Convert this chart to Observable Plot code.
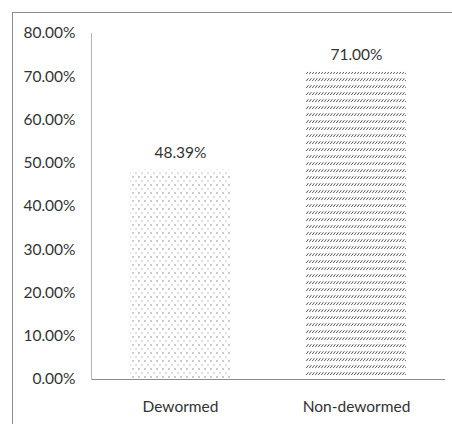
<!DOCTYPE html>
<html>
<head>
<meta charset="utf-8">
<script src="https://cdn.jsdelivr.net/npm/d3@7"></script>
<script src="https://cdn.jsdelivr.net/npm/@observablehq/plot@0.6"></script>
<style>
  html, body { margin: 0; padding: 0; background: #fff; overflow: hidden; }
  #wrap { position: relative; width: 452px; height: 424px; }
  #border { position: absolute; left: 12px; top: 12px; width: 470px; height: 440px;
            border: 1px solid #8c8c8c; box-sizing: border-box; pointer-events: none; }
  #chart { position: absolute; left: 0; top: 0; }
</style>
</head>
<body>
<div id="wrap"><div id="chart"></div><div id="border"></div></div>
<script>
// Share of each group (as fractions)
const groups = ["Dewormed", "Non-dewormed"];
const shares = [0.4839, 0.71];
const yTicks = [0, 0.1, 0.2, 0.3, 0.4, 0.5, 0.6, 0.7, 0.8];

const rows = groups.map((g, i) => ({group: g, share: shares[i]}));
const pct = d3.format(".2%");
const font = "Lato, 'Open Sans', sans-serif";
const fs = 15.5;

const chart = Plot.plot({
  width: 452,
  height: 424,
  marginLeft: 91,
  marginRight: 7,
  marginTop: 33,
  marginBottom: 45,
  style: {fontFamily: font, fontSize: `${fs}px`, color: "#333", background: "transparent"},
  x: {domain: groups, paddingInner: 0.43, paddingOuter: 0.22, label: null},
  y: {domain: [0, 0.8], label: null},
  color: {type: "ordinal", domain: groups, range: ["url(#dots)", "url(#hatch)"]},
  marks: [
    Plot.barY(rows, {x: "group", y: "share", fill: "group"}),
    Plot.text(rows, {x: "group", y: "share", text: d => pct(d.share),
                     lineAnchor: "bottom", dy: -12, fill: "#333", fontSize: fs}),
    Plot.axisX({tickSize: 0, tickPadding: 21, fontSize: fs, fill: "#333", label: null}),
    Plot.axisY(yTicks, {tickSize: 0, tickPadding: 16, tickFormat: pct, fontSize: fs, fill: "#333", label: null}),
    Plot.ruleY([0], {stroke: "#8c8c8c", strokeWidth: 1}),
    Plot.frame({anchor: "left", stroke: "#b4b4b4"})
  ]
});

// Fill patterns for the two bars
const defs = d3.select(chart).insert("defs", ":first-child");
const dots = defs.append("pattern").attr("id", "dots")
  .attr("patternUnits", "userSpaceOnUse").attr("width", 6).attr("height", 8);
dots.append("rect").attr("x", 0.5).attr("y", 0.5).attr("width", 1).attr("height", 1).attr("fill", "#333");
dots.append("rect").attr("x", 3.5).attr("y", 4.5).attr("width", 1).attr("height", 1).attr("fill", "#888");
const hatch = defs.append("pattern").attr("id", "hatch")
  .attr("patternUnits", "userSpaceOnUse").attr("width", 3).attr("height", 7);
hatch.append("path").attr("d", "M0.3,4 L2.4,1.2").attr("stroke", "#444").attr("stroke-width", 0.9).attr("fill", "none");

document.getElementById("chart").append(chart);
</script>
</body>
</html>
